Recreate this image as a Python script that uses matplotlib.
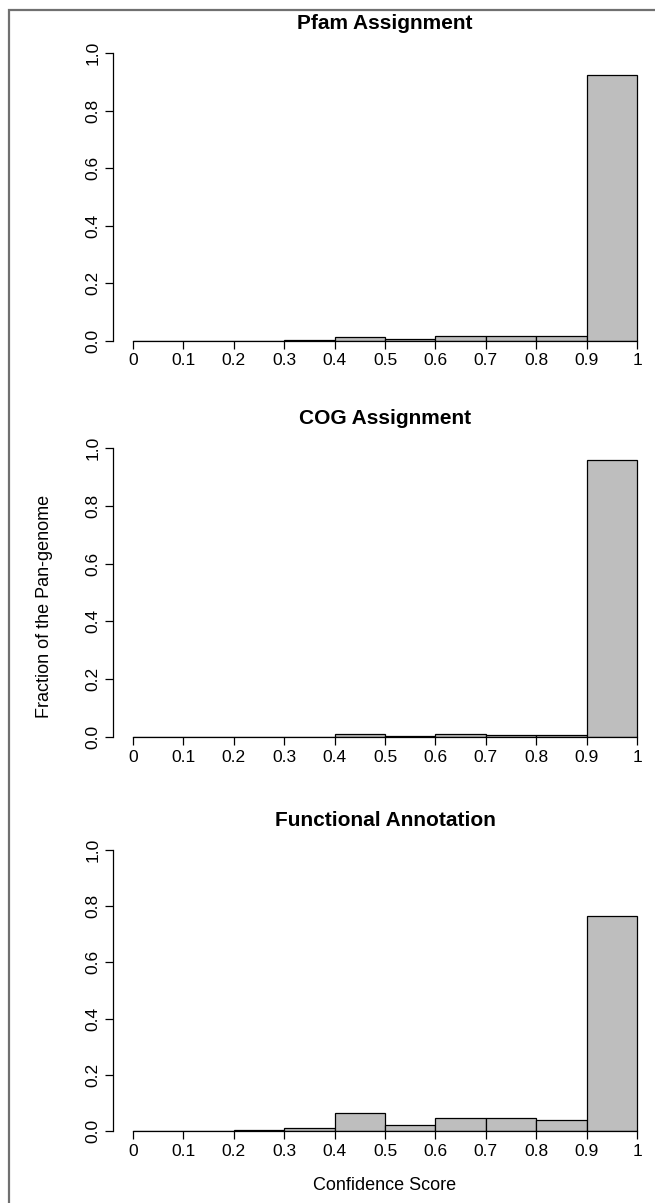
import matplotlib
matplotlib.use("Agg")
import matplotlib.pyplot as plt
from matplotlib.patches import Rectangle
import numpy as np

plt.rcParams['font.family'] = ['Liberation Sans', 'DejaVu Sans']

bin_edges = [0.0, 0.1, 0.2, 0.3, 0.4, 0.5, 0.6, 0.7, 0.8, 0.9, 1.0]
x_tick_labels = ["0", "0.1", "0.2", "0.3", "0.4", "0.5", "0.6", "0.7", "0.8", "0.9", "1"]
y_ticks = [0.0, 0.2, 0.4, 0.6, 0.8, 1.0]
y_tick_labels = ["0.0", "0.2", "0.4", "0.6", "0.8", "1.0"]

pfam_fraction = [0.0, 0.0, 0.0, 0.0025, 0.014, 0.008, 0.017, 0.018, 0.017, 0.924]
cog_fraction = [0.0, 0.0, 0.0, 0.001, 0.012, 0.005, 0.010, 0.007, 0.007, 0.958]
func_fraction = [0.0, 0.001, 0.002, 0.012, 0.063, 0.022, 0.046, 0.046, 0.039, 0.765]

titles = ["Pfam Assignment", "COG Assignment", "Functional Annotation"]
series = [pfam_fraction, cog_fraction, func_fraction]

W, H = 655, 1203
fig = plt.figure(figsize=(W / 100, H / 100), dpi=100)

# frame around the figure
fig.patches.append(Rectangle((9 / W, 0 - 0.01), 1.2, 1 - 10 / H + 0.01,
                             transform=fig.transFigure, fill=False,
                             edgecolor="#707070", linewidth=1.6))

x0_px, x1_px = 133, 637          # data 0 and 1 in pixels
unit = (x1_px - x0_px)
left_px = x0_px - 0.04 * unit
width_px = 1.08 * unit
panels_px = [(53, 341), (448, 737), (850, 1131)]  # (y of 1.0, y of 0.0)

for (top, bottom), title, vals in zip(panels_px, titles, series):
    ax = fig.add_axes([left_px / W, 1 - bottom / H, width_px / W, (bottom - top) / H])
    lefts = bin_edges[:-1]
    widths = np.diff(bin_edges)
    ax.bar(lefts, vals, width=widths, align="edge", color="#BEBEBE",
           edgecolor="black", linewidth=0.9)
    ax.set_xlim(-0.04, 1.04)
    ax.set_ylim(0, 1.0)
    for s in ["top", "right"]:
        ax.spines[s].set_visible(False)
    ax.spines["bottom"].set_bounds(0, 1)
    ax.spines["left"].set_bounds(0, 1)
    ax.spines["left"].set_linewidth(0.9)
    ax.spines["bottom"].set_linewidth(0.9)
    ax.set_xticks(bin_edges)
    ax.set_xticklabels(x_tick_labels, fontsize=12.5)
    ax.set_yticks(y_ticks)
    ax.set_yticklabels(y_tick_labels, fontsize=12.5, rotation=90, va="center")
    ax.tick_params(axis="both", direction="out", length=6, width=0.9, pad=3)
    ax.set_title(title, fontsize=15, fontweight="bold", pad=17)
    ax.patch.set_alpha(0)

fig.text(45 / W, 1 - 606 / H, "Fraction of the Pan-genome", rotation=90,
         ha="center", va="center", fontsize=13)
fig.text(385 / W, 1 - 1186 / H, "Confidence Score", ha="center", va="center",
         fontsize=13)

fig.savefig("out.png", dpi=100)
